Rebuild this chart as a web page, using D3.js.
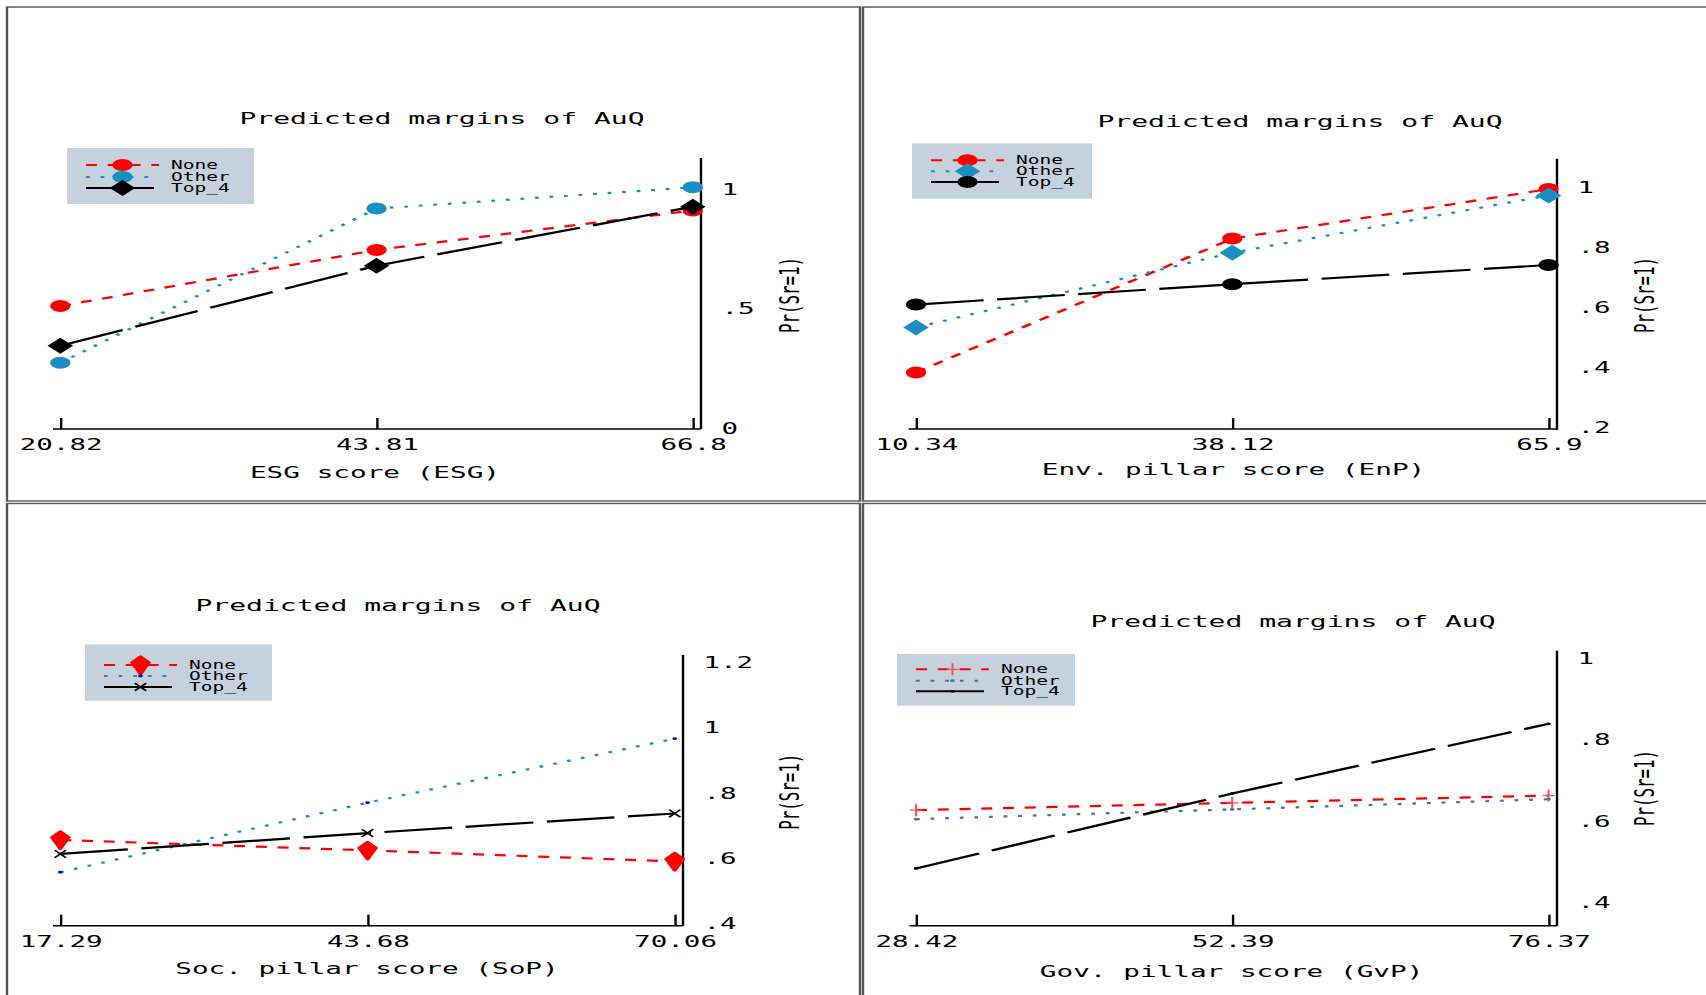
<!DOCTYPE html>
<html>
<head>
<meta charset="utf-8">
<script src="https://cdnjs.cloudflare.com/ajax/libs/d3/7.8.5/d3.min.js"></script>
<style>
body { margin: 0; background: #fff; }
svg { display: block; }
</style>
</head>
<body>
<script>
// values
var groups = ["None", "Other", "Top_4"];

var esgX = [20.82, 43.81, 66.8];
var esgNone = [0.51, 0.745, 0.91];
var esgOther = [0.273, 0.918, 1.007];
var esgTop4 = [0.344, 0.679, 0.926];
var esgYTicks = [0, 0.5, 1];
var esgYLabels = ["0", ".5", "1"];

var enpX = [10.34, 38.12, 65.9];
var enpNone = [0.382, 0.828, 0.993];
var enpOther = [0.532, 0.781, 0.972];
var enpTop4 = [0.608, 0.676, 0.74];
var enpYTicks = [0.2, 0.4, 0.6, 0.8, 1];
var enpYLabels = [".2", ".4", ".6", ".8", "1"];

var sopX = [17.29, 43.68, 70.06];
var sopNone = [0.656, 0.624, 0.59];
var sopOther = [0.557, 0.77, 0.966];
var sopTop4 = [0.613, 0.677, 0.737];
var sopYTicks = [0.4, 0.6, 0.8, 1, 1.2];
var sopYLabels = [".4", ".6", ".8", "1", "1.2"];

var gvpX = [28.42, 52.39, 76.37];
var gvpNone = [0.627, 0.645, 0.663];
var gvpOther = [0.605, 0.629, 0.654];
var gvpTop4 = [0.484, 0.668, 0.839];
var gvpYTicks = [0.4, 0.6, 0.8, 1];
var gvpYLabels = [".4", ".6", ".8", "1"];

// the original graph was stretched sideways, so draw in a narrow box and stretch it
var W = 1706, H = 995, SX = 1.7;
function fx(v) { return v / SX; }

var FONT = '"DejaVu Sans Mono", monospace';
var RED = "#ff0000", BLUE = "#1a8fc6", SLATE = "#4a7391";
var LONG = "40,8", DASH = "6.5,6.3", DOT = "2.2,6.4";

var panels = [
  { xs: esgX, yt: esgYTicks, yl: esgYLabels, xTitle: "ESG score (ESG)",
    series: [
      { v: esgNone, color: RED, dash: DASH, mk: "circle", mc: RED },
      { v: esgOther, color: BLUE, dash: DOT, mk: "circle", mc: BLUE },
      { v: esgTop4, color: "#000", dash: LONG, mk: "diamond", mc: "#000" }],
    frame: [7, 7, 860, 501], xr: [60.3, 692.8], axisY: 429, axisX: [53, 701],
    yLine: [158, 429], yd: [0, 1], yr: [428, 189],
    title: [442, 124], xt: [375, 478], ytl: [790, 295],
    legend: [67, 148, 254, 204], rows: [165, 177, 188] },
  { xs: enpX, yt: enpYTicks, yl: enpYLabels, xTitle: "Env. pillar score (EnP)",
    series: [
      { v: enpNone, color: RED, dash: DASH, mk: "circle", mc: RED },
      { v: enpOther, color: BLUE, dash: DOT, mk: "diamond", mc: BLUE },
      { v: enpTop4, color: "#000", dash: LONG, mk: "circle", mc: "#000" }],
    frame: [863, 7, 1720, 501], xr: [916, 1548.6], axisY: 429, axisX: [908.6, 1557],
    yLine: [158.7, 430], yd: [0.2, 1], yr: [427, 187],
    title: [1300, 127], xt: [1233.5, 475.5], ytl: [1645, 295],
    legend: [912, 143.3, 1092, 198.7], rows: [160.3, 171.3, 182] },
  { xs: sopX, yt: sopYTicks, yl: sopYLabels, xTitle: "Soc. pillar score (SoP)",
    series: [
      { v: sopNone, color: RED, dash: DASH, mk: "bigdiamond", mc: RED },
      { v: sopOther, color: BLUE, dash: DOT, mk: "dot", mc: "#0000ff" },
      { v: sopTop4, color: "#000", dash: LONG, mk: "x", mc: "#000" }],
    frame: [7, 503.5, 860, 1010], xr: [60.3, 674.7], axisY: 925.7, axisX: [53, 683],
    yLine: [655, 926], yd: [0.4, 1.2], yr: [923.5, 662.3],
    title: [398, 611.5], xt: [367, 974.5], ytl: [790, 791.7],
    legend: [85, 644.3, 272, 700.7], rows: [665, 676, 687] },
  { xs: gvpX, yt: gvpYTicks, yl: gvpYLabels, xTitle: "Gov. pillar score (GvP)",
    series: [
      { v: gvpNone, color: RED, dash: DASH, mk: "plus", mc: "#ff5050" },
      { v: gvpOther, color: SLATE, dash: DOT, mk: "dot", mc: SLATE },
      { v: gvpTop4, color: "#000", dash: LONG, mk: "dot", mc: "#000" }],
    frame: [863, 503.5, 1720, 1010], xr: [916, 1548.6], axisY: 925.7, axisX: [909.6, 1557],
    yLine: [650.7, 926], yd: [0.4, 1], yr: [902.7, 658.2],
    title: [1293, 627], xt: [1231.6, 977], ytl: [1645, 788],
    legend: [897, 654, 1075, 705.7], rows: [669.3, 680.7, 691.3] }
];

var svg = d3.select("body").append("svg")
    .attr("width", W)
    .attr("height", H)
    .attr("viewBox", "0 0 " + (W / SX) + " " + H)
    .attr("preserveAspectRatio", "none");

function marker(g, type, color, cx, cy) {
  if (type == "circle") {
    g.append("circle").attr("cx", cx).attr("cy", cy).attr("r", 6).attr("fill", color);
  } else if (type == "diamond") {
    g.append("path").attr("d", "M" + cx + "," + (cy - 8) + "L" + (cx + 7.5) + "," + cy +
        "L" + cx + "," + (cy + 8) + "L" + (cx - 7.5) + "," + cy + "Z").attr("fill", color);
  } else if (type == "bigdiamond") {
    g.append("path").attr("d", "M" + cx + "," + (cy - 8.5) + "L" + (cx + 5) + "," + (cy - 2.5) +
        "L" + cx + "," + (cy + 9) + "L" + (cx - 5) + "," + (cy - 2.5) + "Z")
      .attr("fill", color).attr("stroke", color).attr("stroke-width", 2.2).attr("stroke-linejoin", "round");
  } else if (type == "x") {
    g.append("path").attr("d", "M" + (cx - 3.3) + "," + (cy - 3.8) + "L" + (cx + 3.3) + "," + (cy + 3.8) +
        "M" + (cx - 3.3) + "," + (cy + 3.8) + "L" + (cx + 3.3) + "," + (cy - 3.8))
      .attr("stroke", color).attr("stroke-width", 1.3).attr("fill", "none");
  } else if (type == "plus") {
    g.append("path").attr("d", "M" + (cx - 3.5) + "," + cy + "L" + (cx + 3.5) + "," + cy +
        "M" + cx + "," + (cy - 6) + "L" + cx + "," + (cy + 6))
      .attr("stroke", color).attr("stroke-width", 1.2).attr("fill", "none");
  } else {
    g.append("circle").attr("cx", cx).attr("cy", cy).attr("r", 1.4).attr("fill", color);
  }
}

panels.forEach(function(p) {
  var g = svg.append("g");

  g.append("rect")
    .attr("x", fx(p.frame[0])).attr("y", p.frame[1])
    .attr("width", fx(p.frame[2] - p.frame[0])).attr("height", p.frame[3] - p.frame[1])
    .attr("fill", "none").attr("stroke", "#555").attr("stroke-width", 1.4);

  var x = d3.scaleLinear().domain([p.xs[0], p.xs[p.xs.length - 1]]).range([fx(p.xr[0]), fx(p.xr[1])]);
  var y = d3.scaleLinear().domain(p.yd).range(p.yr);

  // x axis, ticks pointing up into the plot
  var xa = g.append("g")
    .attr("transform", "translate(0," + p.axisY + ")")
    .call(d3.axisBottom(x).tickValues(p.xs).tickFormat(function(d) { return String(d); })
      .tickSizeInner(-11).tickSizeOuter(0).tickPadding(9.6));
  xa.select(".domain").remove();
  xa.attr("font-family", FONT).attr("font-size", 16.2);
  xa.selectAll("line").attr("stroke", "#000").attr("stroke-width", 1.4);
  xa.selectAll("text").attr("fill", "#000");
  g.append("line")
    .attr("x1", fx(p.axisX[0])).attr("x2", fx(p.axisX[1]))
    .attr("y1", p.axisY).attr("y2", p.axisY)
    .attr("stroke", "#000").attr("stroke-width", 1.4);

  // y axis on the right, labels only
  var ya = g.append("g")
    .attr("transform", "translate(" + fx(p.axisX[1]) + ",0)")
    .call(d3.axisRight(y).tickValues(p.yt).tickFormat(function(d, i) { return p.yl[i]; })
      .tickSize(0).tickPadding(12));
  ya.select(".domain").remove();
  ya.attr("font-family", FONT).attr("font-size", 16.2);
  ya.selectAll("text").attr("fill", "#000");
  g.append("line")
    .attr("x1", fx(p.axisX[1])).attr("x2", fx(p.axisX[1]))
    .attr("y1", p.yLine[0]).attr("y2", p.yLine[1])
    .attr("stroke", "#000").attr("stroke-width", 1.4);

  // titles
  g.append("text").attr("x", fx(p.title[0])).attr("y", p.title[1])
    .attr("text-anchor", "middle").attr("font-family", FONT).attr("font-size", 16.5)
    .text("Predicted margins of AuQ");
  g.append("text").attr("x", fx(p.xt[0])).attr("y", p.xt[1])
    .attr("text-anchor", "middle").attr("font-family", FONT).attr("font-size", 16.3)
    .text(p.xTitle);
  g.append("text")
    .attr("transform", "translate(" + fx(p.ytl[0]) + "," + p.ytl[1] + ") rotate(-90)")
    .attr("text-anchor", "middle").attr("dy", "0.35em")
    .attr("font-family", FONT).attr("font-size", 15.8)
    .text("Pr(Sr=1)");

  // series
  var line = d3.line()
    .x(function(d, i) { return x(p.xs[i]); })
    .y(function(d) { return y(d); });

  p.series.forEach(function(s) {
    g.append("path").datum(s.v)
      .attr("d", line)
      .attr("fill", "none")
      .attr("stroke", s.color)
      .attr("stroke-width", 2.2)
      .attr("stroke-dasharray", s.dash);
    s.v.forEach(function(d, i) {
      marker(g, s.mk, s.mc, x(p.xs[i]), y(d));
    });
  });

  // legend
  var L = p.legend;
  g.append("rect")
    .attr("x", fx(L[0])).attr("y", L[1])
    .attr("width", fx(L[2] - L[0])).attr("height", L[3] - L[1])
    .attr("fill", "#c5d2de");
  var l1 = fx(L[0] + 19), l2 = fx(L[0] + 92);
  p.series.forEach(function(s, i) {
    var ry = p.rows[i];
    g.append("line")
      .attr("x1", l1).attr("x2", l2).attr("y1", ry).attr("y2", ry)
      .attr("stroke", s.color).attr("stroke-width", 2)
      .attr("stroke-dasharray", s.dash);
    marker(g, s.mk, s.mc, (l1 + l2) / 2, ry);
    g.append("text")
      .attr("x", fx(L[0] + 104)).attr("y", ry).attr("dy", "0.36em")
      .attr("font-family", FONT).attr("font-size", 11.5)
      .text(groups[i]);
  });
});
</script>
</body>
</html>
